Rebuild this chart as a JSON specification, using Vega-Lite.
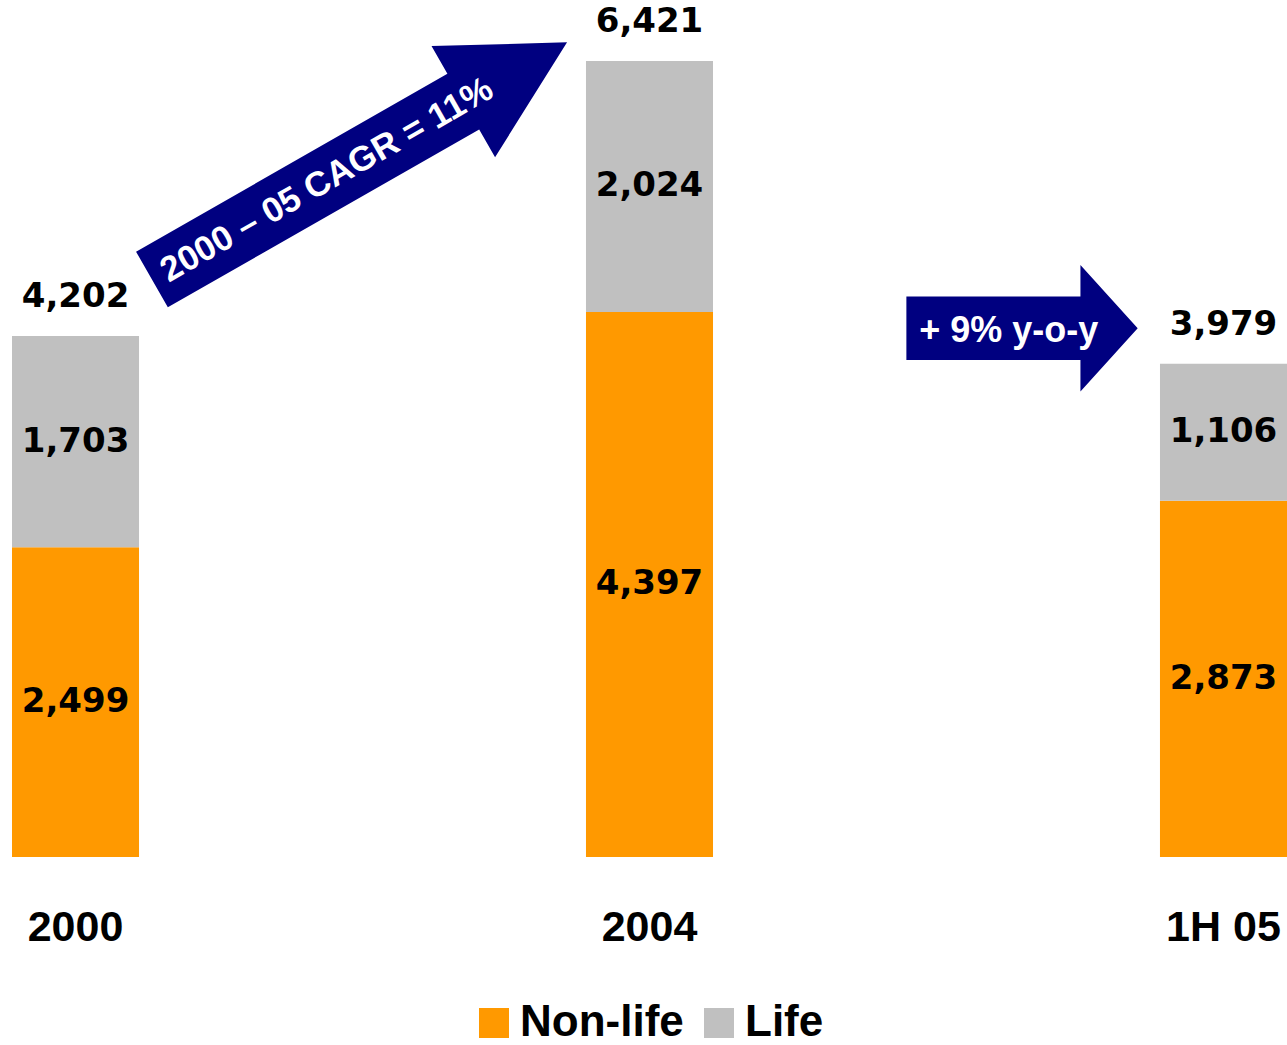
{
  "$schema": "https://vega.github.io/schema/vega-lite/v6.json",
  "width": 1275,
  "height": 796,
  "autosize": {"type": "none"},
  "padding": {"left": 12, "top": 61, "right": 0, "bottom": 188},
  "background": "white",
  "config": {"view": {"stroke": null}, "font": "Liberation Sans"},
  "datasets": {
    "sales": [
      {"period": "2000", "type": "Non-life", "value": 2499},
      {"period": "2000", "type": "Life", "value": 1703},
      {"period": "2004", "type": "Non-life", "value": 4397},
      {"period": "2004", "type": "Life", "value": 2024},
      {"period": "1H 05", "type": "Non-life", "value": 2873},
      {"period": "1H 05", "type": "Life", "value": 1106}
    ]
  },
  "resolve": {"scale": {"x": "independent"}},
  "layer": [
    {
      "data": {"name": "sales"},
      "mark": {"type": "bar"},
      "encoding": {
        "x": {
          "field": "period", "type": "nominal", "sort": ["2000", "2004", "1H 05"],
          "scale": {"type": "band", "paddingInner": 0.7787, "paddingOuter": 0},
          "axis": {"title": null, "labelAngle": 0, "domain": false, "ticks": false, "tickSize": 0, "grid": false,
                   "labelPadding": 49, "labelFontSize": 43, "labelFontWeight": "bold", "labelColor": "black", "labelFont": "Liberation Sans"}
        },
        "y": {"field": "value", "type": "quantitative", "stack": "zero", "scale": {"domain": [0, 6421], "nice": false}, "axis": null},
        "color": {
          "field": "type", "type": "nominal",
          "scale": {"domain": ["Non-life", "Life"], "range": ["#FF9900", "#C0C0C0"]},
          "legend": {"title": null, "orient": "none", "legendX": 460, "legendY": 940, "direction": "horizontal",
                     "symbolType": "square", "symbolSize": 900, "symbolStrokeWidth": 0, "symbolOpacity": 1,
                     "labelFontSize": 44, "labelFont": "Liberation Sans", "labelFontWeight": "bold", "labelColor": "black",
                     "labelOffset": 4, "columnPadding": 13, "padding": 0, "labelLimit": 600}
        },
        "order": {"field": "type", "sort": "descending"}
      }
    },
    {
      "data": {"name": "sales"},
      "transform": [
        {"stack": "value", "groupby": ["period"], "sort": [{"field": "type", "order": "descending"}], "as": ["v0", "v1"]},
        {"fold": ["v0", "v1"], "as": ["edge", "pos"]},
        {"aggregate": [{"op": "mean", "field": "pos", "as": "mid"}], "groupby": ["period", "type", "value"]}
      ],
      "mark": {"type": "text", "font": "DejaVu Sans", "fontWeight": "bold", "fontSize": 34, "baseline": "middle", "align": "center", "color": "black"},
      "encoding": {
        "x": {"field": "period", "type": "nominal", "sort": ["2000", "2004", "1H 05"], "scale": {"type": "band", "paddingInner": 0.7787, "paddingOuter": 0}, "axis": null},
        "y": {"field": "mid", "type": "quantitative", "scale": {"domain": [0, 6421], "nice": false}, "axis": null},
        "text": {"field": "value", "type": "quantitative", "format": ","}
      }
    },
    {
      "data": {"name": "sales"},
      "transform": [{"aggregate": [{"op": "sum", "field": "value", "as": "total"}], "groupby": ["period"]}],
      "mark": {"type": "text", "font": "DejaVu Sans", "fontWeight": "bold", "fontSize": 34, "baseline": "alphabetic", "align": "center", "dy": -29, "color": "black"},
      "encoding": {
        "x": {"field": "period", "type": "nominal", "sort": ["2000", "2004", "1H 05"], "scale": {"type": "band", "paddingInner": 0.7787, "paddingOuter": 0}, "axis": null},
        "y": {"field": "total", "type": "quantitative", "scale": {"domain": [0, 6421], "nice": false}, "axis": null},
        "text": {"field": "total", "type": "quantitative", "format": ","}
      }
    },
    {
      "data": {"values": [{"u": 0.4948, "level": 5615}]},
      "mark": {"type": "point", "filled": true, "shape": "M-1,-0.134L0.5,-0.134L0.5,-0.268L1,0L0.5,0.268L0.5,0.134L-1,0.134Z",
               "size": 228580, "angle": 330.26, "color": "#000080", "opacity": 1, "strokeWidth": 0},
      "encoding": {
        "x": {"field": "u", "type": "quantitative", "scale": {"domain": [-0.1106, 2.1106], "nice": false, "zero": false}, "axis": null},
        "y": {"field": "level", "type": "quantitative", "scale": {"domain": [0, 6421], "nice": false}, "axis": null}
      }
    },
    {
      "data": {"values": [{"u": 1.649, "level": 4265}]},
      "mark": {"type": "point", "filled": true, "shape": "M-1,-0.274L0.505,-0.274L0.505,-0.547L1,0L0.505,0.547L0.505,0.274L-1,0.274Z",
               "size": 53500, "color": "#000080", "opacity": 1, "strokeWidth": 0},
      "encoding": {
        "x": {"field": "u", "type": "quantitative", "scale": {"domain": [-0.1106, 2.1106], "nice": false, "zero": false}, "axis": null},
        "y": {"field": "level", "type": "quantitative", "scale": {"domain": [0, 6421], "nice": false}, "axis": null}
      }
    },
    {
      "data": {"values": [{"u": 0.4377, "level": 5463, "label": "2000 – 05 CAGR = 11%"}]},
      "mark": {"type": "text", "font": "Liberation Sans", "fontWeight": "bold", "fontSize": 35, "angle": 330.26, "align": "center", "baseline": "middle", "color": "white"},
      "encoding": {
        "x": {"field": "u", "type": "quantitative", "scale": {"domain": [-0.1106, 2.1106], "nice": false, "zero": false}, "axis": null},
        "y": {"field": "level", "type": "quantitative", "scale": {"domain": [0, 6421], "nice": false}, "axis": null},
        "text": {"field": "label"}
      }
    },
    {
      "data": {"values": [{"u": 1.6258, "level": 4152, "label": "+ 9% y-o-y"}]},
      "mark": {"type": "text", "font": "Liberation Sans", "fontWeight": "bold", "fontSize": 36, "align": "center", "baseline": "alphabetic", "color": "white"},
      "encoding": {
        "x": {"field": "u", "type": "quantitative", "scale": {"domain": [-0.1106, 2.1106], "nice": false, "zero": false}, "axis": null},
        "y": {"field": "level", "type": "quantitative", "scale": {"domain": [0, 6421], "nice": false}, "axis": null},
        "text": {"field": "label"}
      }
    }
  ]
}
